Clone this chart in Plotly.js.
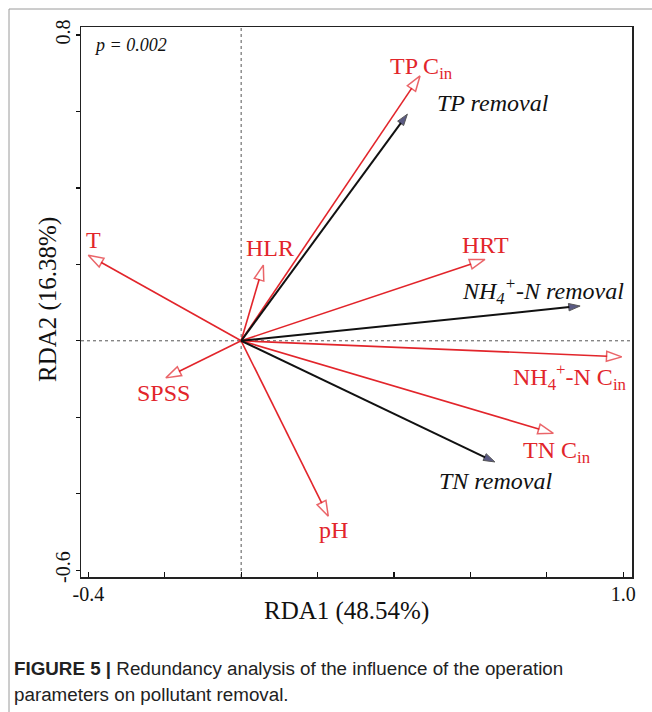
<!DOCTYPE html>
<html>
<head>
<meta charset="utf-8">
<script src="https://cdn.plot.ly/plotly-3.0.1.min.js"></script>
<style>html,body{margin:0;padding:0;background:#fff;}#chart{width:652px;height:712px;}</style>
</head>
<body>
<div id="chart"></div>
<script>
// Explanatory (environmental / operation) variables - red vectors
const envNames = ['TP C<sub>in</sub>', 'HLR', 'T', 'HRT', 'NH<sub>4</sub><sup>+</sup>-N C<sub>in</sub>', 'TN C<sub>in</sub>', 'pH', 'SPSS'];
const envRDA1 = [0.468, 0.058, -0.400, 0.638, 0.996, 0.817, 0.228, -0.197];
const envRDA2 = [0.693, 0.198, 0.224, 0.213, -0.042, -0.242, -0.459, -0.097];

// Response variables (removal) - black vectors
const respNames = ['TP removal', 'NH<sub>4</sub><sup>+</sup>-N removal', 'TN removal'];
const respRDA1 = [0.435, 0.887, 0.664];
const respRDA2 = [0.593, 0.091, -0.317];

// Axis tick labels
const xTickVals = [-0.4, -0.2, 0, 0.2, 0.4, 0.6, 0.8, 1.0];
const xTickText = ['-0.4', '', '', '', '', '', '', '1.0'];
const yTickVals = [-0.6, -0.4, -0.2, 0, 0.2, 0.4, 0.6, 0.8];
const yTickText = ['-0.6', '', '', '', '', '', '', '0.8'];

const xTitle = 'RDA1 (48.54%)';
const yTitle = 'RDA2 (16.38%)';
const pText = 'p = 0.002';
const captionBold = 'FIGURE 5 |';
const captionLine1 = ' Redundancy analysis of the influence of the operation';
const captionLine2 = 'parameters on pollutant removal.';

// label pixel offsets from the arrow tips (layout only)
const envLabelShift = [[2, 8], [7, 17], [5, 15], [1, 14], [-52, -20], [4, -19], [5, -14], [-2, -15]];
const respLabelShift = [[86, 11], [-37, 15], [1, -19]];

const RED = '#e2252b';
const BLACK = '#111111';
const SERIF = 'Liberation Serif, Times New Roman, serif';
const SANS = 'Liberation Sans, Arial, sans-serif';

// pixel -> paper helpers for the fixed frame (plot box: x 81..632, y 27..577)
const px = v => (v - 81) / 551;
const py = v => (577 - v) / 550;

const traces = [];
envNames.forEach((n, i) => {
  traces.push({
    type: 'scatter', mode: 'lines+markers',
    x: [0, envRDA1[i]], y: [0, envRDA2[i]],
    line: {color: RED, width: 1.6},
    marker: {symbol: 'arrow', angleref: 'previous', size: [0, 16], color: '#ffffff', line: {color: RED, width: 1.5}},
    hoverinfo: 'skip', showlegend: false
  });
});
respNames.forEach((n, i) => {
  traces.push({
    type: 'scatter', mode: 'lines+markers',
    x: [0, respRDA1[i]], y: [0, respRDA2[i]],
    line: {color: BLACK, width: 2},
    marker: {symbol: 'arrow', angleref: 'previous', size: [0, 12], color: '#15154f', line: {color: BLACK, width: 1}},
    hoverinfo: 'skip', showlegend: false
  });
});

const annotations = [];
envNames.forEach((n, i) => {
  annotations.push({
    x: envRDA1[i], y: envRDA2[i], xref: 'x', yref: 'y', text: n, showarrow: false,
    xanchor: 'center', yanchor: 'middle', xshift: envLabelShift[i][0], yshift: envLabelShift[i][1],
    font: {family: SERIF, size: 24, color: RED}
  });
});
respNames.forEach((n, i) => {
  annotations.push({
    x: respRDA1[i], y: respRDA2[i], xref: 'x', yref: 'y', text: n, showarrow: false,
    xanchor: 'center', yanchor: 'middle', xshift: respLabelShift[i][0], yshift: respLabelShift[i][1],
    font: {family: SERIF, size: 24, color: BLACK, style: 'italic'}
  });
});
annotations.push({
  xref: 'paper', yref: 'paper', x: px(92), y: py(45), xanchor: 'left', yanchor: 'middle',
  text: pText, showarrow: false, font: {family: SERIF, size: 18, color: BLACK, style: 'italic'}
});
// axis titles
annotations.push({
  xref: 'paper', yref: 'paper', x: px(346), y: py(611), xanchor: 'center', yanchor: 'middle',
  text: xTitle, showarrow: false, font: {family: SERIF, size: 25, color: BLACK}
});
annotations.push({
  xref: 'paper', yref: 'paper', x: px(48), y: py(300), xanchor: 'center', yanchor: 'middle', textangle: -90,
  text: yTitle, showarrow: false, font: {family: SERIF, size: 25, color: BLACK}
});
// caption
annotations.push({
  xref: 'paper', yref: 'paper', x: px(12), y: py(668), xanchor: 'left', yanchor: 'middle',
  text: '<b>' + captionBold + '</b>' + captionLine1, showarrow: false,
  font: {family: SANS, size: 18.8, color: '#222'}
});
annotations.push({
  xref: 'paper', yref: 'paper', x: px(12), y: py(694), xanchor: 'left', yanchor: 'middle',
  text: captionLine2, showarrow: false,
  font: {family: SANS, size: 18.8, color: '#222'}
});

const shapes = [
  {type: 'line', xref: 'x', yref: 'paper', x0: 0, x1: 0, y0: 0, y1: 1, line: {color: '#555', width: 1, dash: 'dot'}, layer: 'below'},
  {type: 'line', xref: 'paper', yref: 'y', x0: 0, x1: 1, y0: 0, y1: 0, line: {color: '#555', width: 1, dash: 'dot'}, layer: 'below'},
  // card border (top and left)
  {type: 'line', xref: 'paper', yref: 'paper', x0: px(9), x1: px(660), y0: py(9), y1: py(9), line: {color: '#9a9a9a', width: 1}},
  {type: 'line', xref: 'paper', yref: 'paper', x0: px(9), x1: px(9), y0: py(9), y1: py(720), line: {color: '#9a9a9a', width: 1}}
];

const layout = {
  width: 652, height: 712,
  margin: {l: 81, r: 20, t: 27, b: 135, pad: 0},
  paper_bgcolor: '#fff', plot_bgcolor: '#fff',
  showlegend: false,
  xaxis: {
    range: [-0.4191, 1.0228], tickvals: xTickVals, ticktext: xTickText,
    ticks: 'inside', ticklen: 5, tickwidth: 1.2, tickcolor: '#111',
    showgrid: false, zeroline: false, showline: true, mirror: true, linecolor: '#222', linewidth: 1.5,
    tickfont: {family: SERIF, size: 20, color: '#111'}, ticklabelstandoff: -2
  },
  yaxis: {
    range: [-0.618, 0.821], tickvals: yTickVals, ticktext: yTickText,
    ticks: 'outside', ticklen: 4, tickwidth: 1.2, tickcolor: '#111', tickangle: -90,
    showgrid: false, zeroline: false, showline: true, mirror: true, linecolor: '#222', linewidth: 1.5,
    tickfont: {family: SERIF, size: 20, color: '#111'}, ticklabelstandoff: -2
  },
  annotations: annotations,
  shapes: shapes
};

Plotly.newPlot('chart', traces, layout, {staticPlot: true, displayModeBar: false});
</script>
</body>
</html>
